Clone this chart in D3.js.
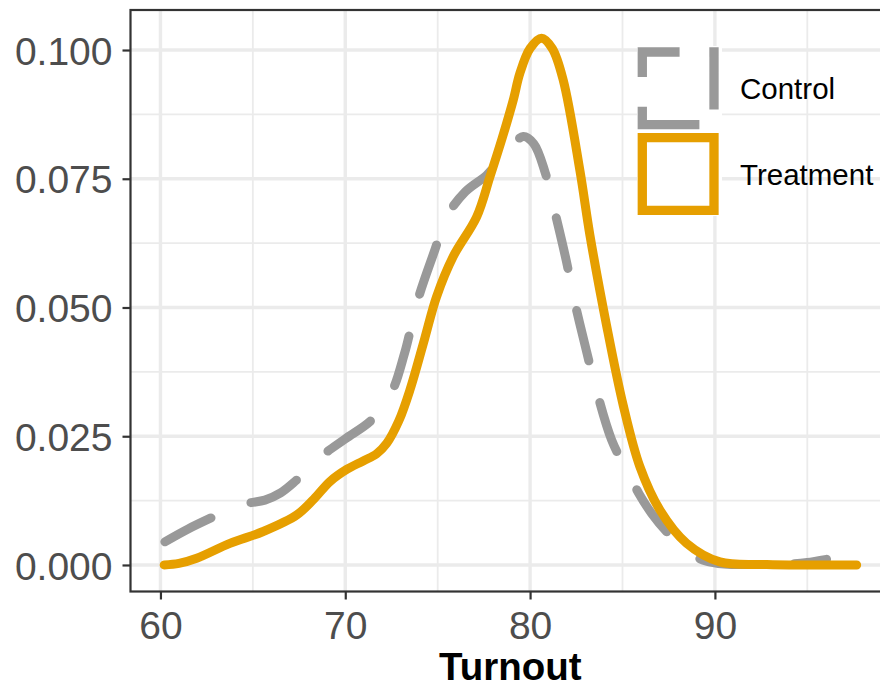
<!DOCTYPE html>
<html>
<head>
<meta charset="utf-8">
<script src="https://cdn.jsdelivr.net/npm/d3@7"></script>
<style>
  html, body { margin: 0; padding: 0; background: #ffffff; }
  svg { display: block; font-family: "Liberation Sans", Arial, sans-serif; }
</style>
</head>
<body>
<svg id="chart" width="880" height="688"></svg>
<script>
// Kernel density of turnout, control vs treatment
const controlX = [60.24, 61.5, 62.95, 64.0, 64.75, 65.65, 66.5, 67.37, 68.2, 68.81, 70.0, 71.44, 72.5, 73.2, 73.93, 74.85, 75.48, 76.5, 77.65, 78.2, 78.82, 79.63, 80.2, 80.8, 81.25, 81.97, 82.33, 83.06, 83.51, 84.41, 85.22, 85.9, 86.58, 87.5, 88.5, 89.5, 90.5, 92.0, 94.0, 95.0, 96.04];
const controlY = [0.0045, 0.0070, 0.0095, 0.0112, 0.0120, 0.0126, 0.0140, 0.0165, 0.0192, 0.0214, 0.0245, 0.0282, 0.0335, 0.0410, 0.0515, 0.0612, 0.0676, 0.0725, 0.0757, 0.0780, 0.0806, 0.0832, 0.0818, 0.0764, 0.0699, 0.0589, 0.0524, 0.0414, 0.0350, 0.0243, 0.0184, 0.0138, 0.0100, 0.0060, 0.0025, 0.0008, 0.0002, 0.0001, 0.0002, 0.0005, 0.0011];

const treatX = [60.2, 61.0, 61.96, 63.76, 65.56, 67.37, 68.3, 69.17, 70.1, 70.97, 71.7, 72.24, 72.9, 73.5, 74.3, 74.94, 75.84, 77.11, 77.83, 78.5, 79.09, 79.45, 80.0, 80.62, 81.2, 81.79, 82.70, 83.24, 84.14, 85.04, 85.94, 87.02, 88.47, 90.27, 92.8, 95.0, 97.67];
const treatY = [0.0000, 0.0003, 0.0013, 0.0042, 0.0065, 0.0097, 0.0128, 0.0162, 0.0186, 0.0202, 0.0216, 0.0236, 0.0280, 0.0340, 0.0440, 0.0521, 0.0599, 0.0676, 0.0754, 0.0830, 0.0903, 0.0955, 0.1003, 0.1023, 0.1003, 0.0942, 0.0765, 0.0640, 0.0465, 0.0310, 0.0191, 0.0107, 0.0042, 0.0006, 0.0001, 0.0000, 0.0000];

const xTicks = [60, 70, 80, 90];
const xMinor = [65, 75, 85, 95];
const yTicks = [0, 0.025, 0.05, 0.075, 0.1];
const yMinor = [0.0125, 0.0375, 0.0625, 0.0875];
const yTickLabels = ["0.000", "0.025", "0.050", "0.075", "0.100"];
const groups = ["Control", "Treatment"];
const groupColors = ["#999999", "#E69F00"];
const xTitle = "Turnout";

const panel = { left: 130.5, right: 894, top: 10, bottom: 591.5 };
const svg = d3.select("#chart");

const x = d3.scaleLinear().domain([58.38, 99.69]).range([panel.left, panel.right]);
const y = d3.scaleLinear().domain([-0.00515, 0.10777]).range([panel.bottom, panel.top]);

// panel background
svg.append("rect")
  .attr("x", panel.left).attr("y", panel.top)
  .attr("width", panel.right - panel.left).attr("height", panel.bottom - panel.top)
  .attr("fill", "#ffffff");

const grid = svg.append("g");
grid.selectAll(".xminor").data(xMinor).enter().append("line")
  .attr("x1", d => x(d)).attr("x2", d => x(d))
  .attr("y1", panel.top).attr("y2", panel.bottom)
  .attr("stroke", "#EBEBEB").attr("stroke-width", 1.8);
grid.selectAll(".yminor").data(yMinor).enter().append("line")
  .attr("x1", panel.left).attr("x2", panel.right)
  .attr("y1", d => y(d)).attr("y2", d => y(d))
  .attr("stroke", "#EBEBEB").attr("stroke-width", 1.8);
grid.selectAll(".xmajor").data(xTicks).enter().append("line")
  .attr("x1", d => x(d)).attr("x2", d => x(d))
  .attr("y1", panel.top).attr("y2", panel.bottom)
  .attr("stroke", "#EBEBEB").attr("stroke-width", 3.4);
grid.selectAll(".ymajor").data(yTicks).enter().append("line")
  .attr("x1", panel.left).attr("x2", panel.right)
  .attr("y1", d => y(d)).attr("y2", d => y(d))
  .attr("stroke", "#EBEBEB").attr("stroke-width", 3.4);

// density curves
const line = d3.line().x(d => x(d[0])).y(d => y(d[1])).curve(d3.curveCatmullRom.alpha(0.5));
const controlPts = controlX.map((v, i) => [v, controlY[i]]);
const treatPts = treatX.map((v, i) => [v, treatY[i]]);

const controlPath = svg.append("path").datum(controlPts)
  .attr("d", line)
  .attr("fill", "none")
  .attr("stroke", groupColors[0])
  .attr("stroke-width", 9)
  .attr("stroke-linecap", "round")
  .attr("stroke-linejoin", "round");

// dashed pattern (~92px period) sized so the curve finishes inside a dash
const len = controlPath.node().getTotalLength();
const cycles = Math.max(1, Math.round(len / 92 - 0.35));
const period = len / (cycles + 0.35);
controlPath.attr("stroke-dasharray", `${(period * 0.545).toFixed(2)} ${(period * 0.455).toFixed(2)}`);

svg.append("path").datum(treatPts)
  .attr("d", line)
  .attr("fill", "none")
  .attr("stroke", groupColors[1])
  .attr("stroke-width", 9)
  .attr("stroke-linecap", "round")
  .attr("stroke-linejoin", "round");

// panel border
svg.append("rect")
  .attr("x", panel.left).attr("y", panel.top)
  .attr("width", panel.right - panel.left).attr("height", panel.bottom - panel.top)
  .attr("fill", "none").attr("stroke", "#333333").attr("stroke-width", 2.2);

// axes
const xAxis = d3.axisBottom(x).tickValues(xTicks).tickSize(8).tickPadding(10).tickFormat(d3.format("d"));
const yAxis = d3.axisLeft(y).tickValues(yTicks).tickSize(8).tickPadding(10)
  .tickFormat((d, i) => yTickLabels[i]);

const gx = svg.append("g").attr("transform", `translate(0,${panel.bottom})`).call(xAxis);
const gy = svg.append("g").attr("transform", `translate(${panel.left},0)`).call(yAxis);
[gx, gy].forEach(g => {
  g.select(".domain").remove();
  g.selectAll(".tick line").attr("stroke", "#333333").attr("stroke-width", 2.2);
  g.selectAll(".tick text").attr("fill", "#4D4D4D").style("font-size", "39px")
    .style("font-family", "'Liberation Sans', Arial, sans-serif");
});
gx.selectAll(".tick text").attr("dy", null).attr("y", 47);
gy.selectAll(".tick text").attr("dy", "0.36em").attr("x", -18);

// axis title
svg.append("text")
  .attr("x", (panel.left + panel.right) / 2 - 2)
  .attr("y", 680)
  .attr("text-anchor", "middle")
  .style("font-size", "38.5px").style("font-weight", "bold")
  .attr("fill", "#000000")
  .text(xTitle);

// legend inside the panel
const legend = svg.append("g");
legend.append("rect")
  .attr("x", 637).attr("y", 46).attr("width", 85).attr("height", 170)
  .attr("fill", "#ffffff");

const keyW = 71.7, keyH = 72.7, sw = 9.3;
const keyX = 642.3;
const keyY = [52, 137.65];

groups.forEach((g, i) => {
  const x0 = keyX, y0 = keyY[i], x1 = keyX + keyW, y1 = keyY[i] + keyH;
  // outline traced from the lower-left corner, up, across, down and back
  const p = d3.path();
  p.moveTo(x0, y1); p.lineTo(x0, y0); p.lineTo(x1, y0); p.lineTo(x1, y1); p.closePath();
  const key = legend.append("path")
    .attr("d", p.toString())
    .attr("fill", "none")
    .attr("stroke", groupColors[i])
    .attr("stroke-width", sw)
    .attr("stroke-linejoin", "miter");
  if (i === 0) {
    key.attr("stroke-dasharray", "53 39")
      .attr("stroke-dashoffset", 39.65)
      .attr("stroke-linecap", "square");
  }
  legend.append("text")
    .attr("x", 740)
    .attr("y", (y0 + y1) / 2 + 10.7)
    .style("font-size", "29.5px")
    .attr("fill", "#000000")
    .text(g);
});
</script>
</body>
</html>
